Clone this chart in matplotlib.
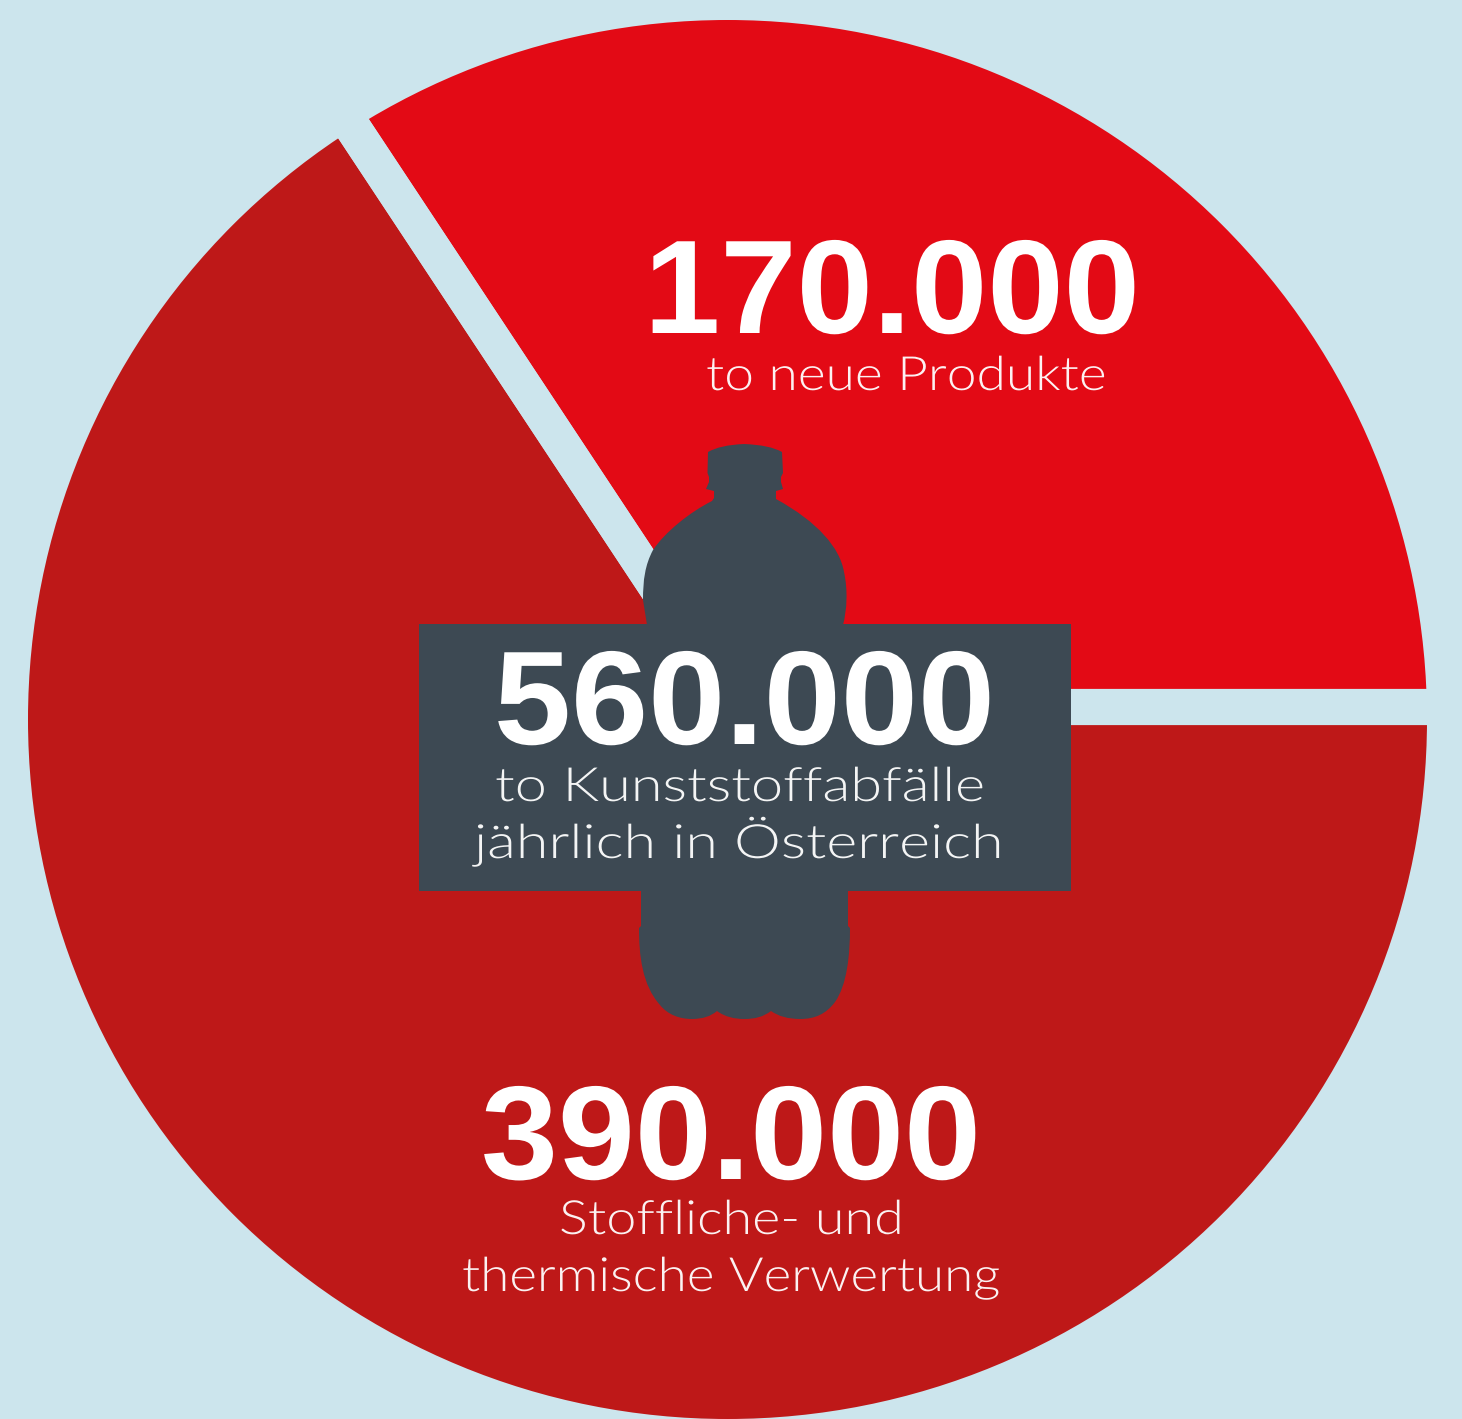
import matplotlib
matplotlib.use("Agg")
import matplotlib.pyplot as plt
from matplotlib.patches import Circle, PathPatch, Rectangle
from matplotlib.path import Path
from matplotlib.patheffects import AbstractPathEffect
from matplotlib.transforms import Affine2D

# Tonnen wie angegeben, Anteile wie im Bild gezeichnet (nicht proportional)
totals = [170000, 390000, 560000]
shares = [34.3, 65.7]
captions = ["to neue Produkte", "Stoffliche- und\nthermische Verwertung",
            "to Kunststoffabfälle\njährlich in Österreich"]

BG = "#cce5ed"
RED = "#e30a15"
DARKRED = "#be1818"
SLATE = "#3d4953"
W, H = 1462, 1419


def fy(y):
    # Bildkoordinate (von oben) -> Achse (von unten)
    return H - y


fig = plt.figure(figsize=(W / 100, H / 100), dpi=100, facecolor=BG)
ax = fig.add_axes([0, 0, 1, 1])

pie_center = (736, fy(707))
wedges, _ = ax.pie(shares, colors=[RED, DARKRED], startangle=0, radius=900,
                   center=pie_center, frame=True, wedgeprops=dict(linewidth=0))
disc = Circle((727.5, fy(719.5)), 699.5, transform=ax.transData)
for w in wedges:
    w.set_clip_on(True)  # pie schaltet das Clipping sonst ab
    w.set_clip_path(disc)

# Spalte zwischen den Stücken: nur Kontur, ausserhalb des Kreises unsichtbar
ax.pie(shares, colors=["none", "none"], startangle=0, radius=900,
       center=pie_center, frame=True, wedgeprops=dict(edgecolor=BG, linewidth=26))
ax.set_xlim(0, W)
ax.set_ylim(0, H)
ax.set_aspect("auto")
ax.axis("off")

# Flasche
bottle = [
    (Path.MOVETO, (744, 444)),
    (Path.CURVE3, (720, 445)), (Path.CURVE3, (708, 452)),
    (Path.LINETO, (707.5, 473)), (Path.LINETO, (709, 477)), (Path.LINETO, (709, 482)),
    (Path.LINETO, (706, 489)), (Path.LINETO, (714, 491)), (Path.LINETO, (714, 498)),
    (Path.LINETO, (712, 501)),
    (Path.CURVE4, (690, 512)), (Path.CURVE4, (665, 532)), (Path.CURVE4, (653, 550)),
    (Path.CURVE4, (645, 565)), (Path.CURVE4, (643, 580)), (Path.CURVE4, (643, 600)),
    (Path.LINETO, (647, 625)), (Path.LINETO, (641, 890)), (Path.LINETO, (641, 926)),
    (Path.LINETO, (639, 928)),
    (Path.CURVE4, (639, 955)), (Path.CURVE4, (642, 985)), (Path.CURVE4, (660, 1005)),
    (Path.CURVE4, (668, 1015)), (Path.CURVE4, (680, 1019)), (Path.CURVE4, (692, 1019)),
    (Path.CURVE3, (708, 1019)), (Path.CURVE3, (717, 1011)),
    (Path.CURVE4, (725, 1017)), (Path.CURVE4, (735, 1019)), (Path.CURVE4, (744, 1019)),
    (Path.CURVE4, (755, 1019)), (Path.CURVE4, (763, 1017)), (Path.CURVE4, (771, 1011)),
    (Path.CURVE3, (782, 1019)), (Path.CURVE3, (800, 1019)),
    (Path.CURVE4, (815, 1019)), (Path.CURVE4, (826, 1014)), (Path.CURVE4, (835, 1002)),
    (Path.CURVE4, (847, 985)), (Path.CURVE4, (850, 955)), (Path.CURVE4, (850, 928)),
    (Path.LINETO, (848, 926)), (Path.LINETO, (848, 890)), (Path.LINETO, (843, 625)),
    (Path.CURVE4, (847, 610)), (Path.CURVE4, (848, 590)), (Path.CURVE4, (844, 572)),
    (Path.CURVE4, (840, 548)), (Path.CURVE4, (818, 522)), (Path.CURVE4, (776, 499)),
    (Path.LINETO, (776, 491)), (Path.LINETO, (783, 489)), (Path.LINETO, (781, 482)),
    (Path.LINETO, (781, 477)), (Path.LINETO, (783, 473)), (Path.LINETO, (782, 452)),
    (Path.CURVE3, (770, 445)), (Path.CURVE3, (744, 444)),
    (Path.CLOSEPOLY, (744, 444)),
]
codes = [c for c, _ in bottle]
verts = [(x, fy(y)) for _, (x, y) in bottle]
ax.add_patch(PathPatch(Path(verts, codes), facecolor=SLATE, edgecolor="none"))
ax.add_patch(Rectangle((419, fy(891)), 652, 267, facecolor=SLATE, edgecolor="none"))


class Widen(AbstractPathEffect):
    # Schrift horizontal dehnen, um die Laufweite des Originals zu treffen
    def __init__(self, cx, factor):
        super().__init__()
        self.cx = cx
        self.factor = factor

    def draw_path(self, renderer, gc, tpath, affine, rgbFace=None):
        stretch = Affine2D().translate(-self.cx, 0).scale(self.factor, 1).translate(self.cx, 0)
        renderer.draw_path(gc, tpath, affine + stretch, rgbFace)


def fitted(line, left, right, y, **kw):
    x = (left + right) / 2
    t = ax.text(x, fy(y), line, color="white", ha="center", va="baseline", **kw)
    width = t.get_window_extent(fig.canvas.get_renderer()).width
    t.set_path_effects([Widen(x, (right - left) / width)])


def big(value, left, right, y):
    label = f"{value:,}".replace(",", ".")
    fitted(label, left, right, y, fontsize=96, fontweight="bold", family="Liberation Sans")


def small(line, left, right, y):
    fitted(line, left, right, y, fontsize=34, fontweight=300, alpha=0.95,
           family=["Lato", "DejaVu Sans"])


big(totals[0], 644, 1140, 333)
big(totals[1], 481, 981, 1179)
big(totals[2], 494, 995, 744)

small(captions[0], 706, 1107, 390)
low = captions[1].split("\n")
small(low[0], 559, 904, 1234)
small(low[1], 462, 1001, 1291)
mid = captions[2].split("\n")
small(mid[0], 495, 985, 801)
small(mid[1], 474, 1004, 858)

fig.savefig("out.png", dpi=100, facecolor=BG)
